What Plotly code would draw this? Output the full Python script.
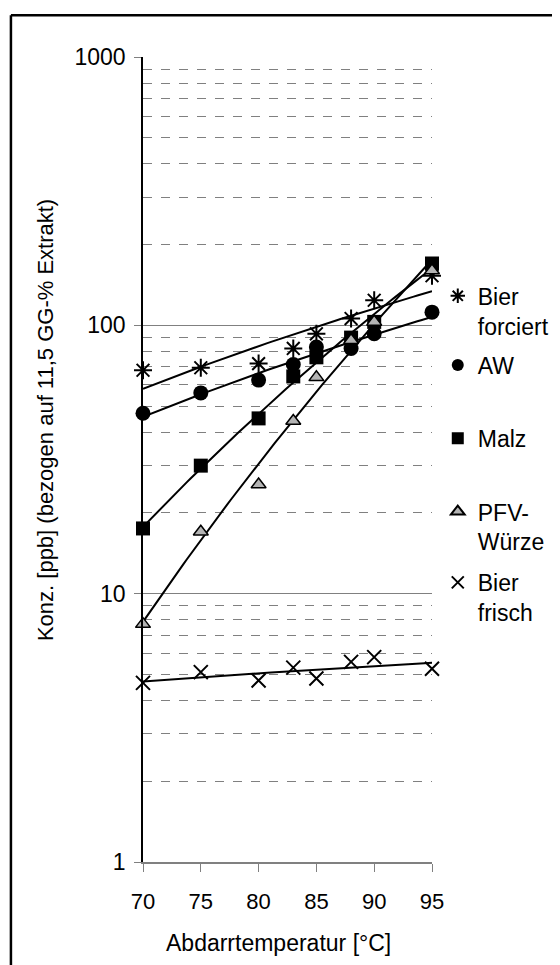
import numpy as np
import plotly.graph_objects as go

temp = [70, 75, 80, 83, 85, 88, 90, 95]

bier_forciert = [68, 69.5, 72, 82, 93, 106, 124, 153]
aw = [47, 56, 62.5, 71.5, 83, 82, 93, 112]
malz = [17.5, 30, 45, 64.5, 76, 90, 103, 170]
pfv_wuerze = [7.7, 17, 25.5, 44, 64, 88, 103, 160]
bier_frisch = [4.65, 5.1, 4.75, 5.3, 4.83, 5.57, 5.8, 5.25]

names = ["Bier<br>forciert", "AW", "Malz", "PFV-<br>Würze", "Bier<br>frisch"]
series = [bier_forciert, aw, malz, pfv_wuerze, bier_frisch]

FONT = "Liberation Sans, Arial, sans-serif"

markers = [
    dict(symbol="asterisk-open", size=15, color="black", line=dict(color="black", width=2)),
    dict(symbol="circle", size=15, color="black"),
    dict(symbol="square", size=14, color="black"),
    dict(symbol="triangle-up", size=13, color="#b4b4b4", line=dict(color="black", width=1.5)),
    dict(symbol="x-thin-open", size=14, color="black", line=dict(color="black", width=2)),
]
legend_y = [0.730, 0.644, 0.553, 0.462, 0.374]

fig = go.Figure()
xs = np.linspace(70, 95, 80)
for i, (nm, vals) in enumerate(zip(names, series)):
    # power trendline, like the spreadsheet one
    b, a = np.polyfit(np.log(temp), np.log(vals), 1)
    fig.add_trace(go.Scatter(x=xs, y=np.exp(a) * xs ** b, mode="lines",
                             line=dict(color="black", width=2),
                             showlegend=False, hoverinfo="skip", cliponaxis=False))
for i, (nm, vals) in enumerate(zip(names, series)):
    lg = "legend" if i == 0 else "legend%d" % (i + 1)
    fig.add_trace(go.Scatter(x=temp, y=vals, mode="markers", name=nm,
                             marker=markers[i], cliponaxis=False, legend=lg))

minor_vals = [m * 10 ** d for d in range(3) for m in range(2, 10)]

layout = dict(
    width=560, height=965,
    margin=dict(l=135, r=136, t=49, b=111),
    paper_bgcolor="white", plot_bgcolor="white",
    font=dict(family=FONT, size=22, color="black"),
    xaxis=dict(range=[70, 95], tickvals=[70, 75, 80, 85, 90, 95],
               showgrid=False, zeroline=False, showline=True, linecolor="#808080",
               linewidth=1.5, ticks="outside", ticklen=8, tickcolor="#808080",
               tickfont=dict(size=22), ticklabelstandoff=11),
    yaxis=dict(type="log", range=[0, 3], tickvals=[1, 10, 100, 1000],
               ticktext=["1", "10", "100", "1000"],
               showgrid=True, gridcolor="#808080", gridwidth=1,
               zeroline=False, showline=True, linecolor="black", linewidth=1.5,
               ticks="outside", ticklen=7, tickcolor="#808080",
               tickfont=dict(size=23), ticklabelstandoff=4,
               minor=dict(tickvals=minor_vals, showgrid=True, griddash="dash",
                          gridcolor="#808080", gridwidth=1, ticks="")),
    annotations=[
        dict(text="Abdarrtemperatur [°C]", xref="paper", yref="paper",
             x=0.47, y=-0.1006, xanchor="center", yanchor="middle",
             showarrow=False, font=dict(size=23)),
        dict(text="Konz. [ppb] (bezogen auf 11,5 GG-% Extrakt)", xref="paper",
             yref="paper", x=-0.339, y=0.549, xanchor="center", yanchor="middle",
             textangle=-90, showarrow=False, font=dict(size=22)),
    ],
    shapes=[
        dict(type="line", xref="paper", yref="paper", x0=-0.457, x1=1.5,
             y0=1.052, y1=1.052, line=dict(color="black", width=2.5)),
        dict(type="line", xref="paper", yref="paper", x0=-0.457, x1=-0.457,
             y0=1.052, y1=-0.2, line=dict(color="black", width=2.5)),
    ],
    hovermode="closest",
)
for i in range(5):
    key = "legend" if i == 0 else "legend%d" % (i + 1)
    layout[key] = dict(x=1.02, y=legend_y[i], xanchor="left", yanchor="top",
                       font=dict(size=23, family=FONT), valign="top",
                       bgcolor="rgba(0,0,0,0)", itemwidth=30, itemsizing="constant")
fig.update_layout(**layout)

fig.write_html("out.html")
